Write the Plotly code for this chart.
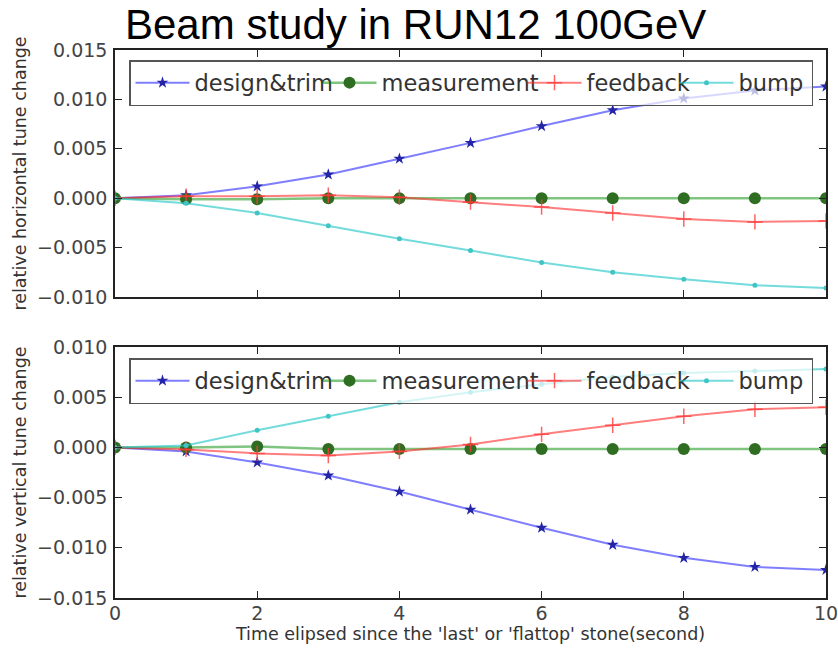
import plotly.graph_objects as go

# ---------------- data ----------------
time_s = [0, 1, 2, 3, 4, 5, 6, 7, 8, 9, 10]
series_names = ["design&trim", "measurement", "feedback", "bump"]

h_design = [0, 0.0003, 0.0012, 0.0024, 0.0040, 0.0056, 0.0073, 0.0089, 0.0101, 0.0109, 0.0113]
h_measurement = [0, -0.0001, -0.0001, 0.0000, 0.0000, 0.0000, 0.0000, 0.0000, 0.0000, 0.0000, 0.0000]
h_feedback = [0, 0.0002, 0.0002, 0.0003, 0.0001, -0.0004, -0.0009, -0.0015, -0.0021, -0.0024, -0.0023]
h_bump = [0, -0.0005, -0.0015, -0.0028, -0.0041, -0.0053, -0.0065, -0.0075, -0.0082, -0.0088, -0.0091]

v_design = [0, -0.0004, -0.0015, -0.0028, -0.0044, -0.0062, -0.0080, -0.0097, -0.0110, -0.0119, -0.0122]
v_measurement = [0, 0, 0.0001, -0.00015, -0.00015, -0.00015, -0.00015, -0.00015, -0.00015, -0.00015, -0.00015]
v_feedback = [0, -0.0002, -0.0006, -0.0008, -0.0004, 0.0003, 0.0013, 0.0022, 0.0031, 0.0038, 0.0040]
v_bump = [0, 0.0002, 0.0017, 0.0031, 0.0045, 0.0055, 0.0063, 0.0070, 0.0074, 0.0076, 0.0078]

x_ticks = [0, 2, 4, 6, 8, 10]
title_text = "Beam study in RUN12 100GeV"
x_title = "Time elipsed since the 'last' or 'flattop' stone(second)"
h_title = "relative horizontal tune change"
v_title = "relative vertical tune change"

# ---------------- styles ----------------
W, H = 838, 649
styles = {
    "design&trim": dict(line=dict(color="rgba(40,40,255,0.6)", width=2),
                        marker=dict(symbol="star", size=9, color="#2424a6")),
    "measurement": dict(line=dict(color="rgba(0,140,0,0.5)", width=2.5),
                        marker=dict(symbol="circle", size=12, color="#2f6d22")),
    "feedback": dict(line=dict(color="rgba(255,40,40,0.6)", width=2),
                     marker=dict(symbol="cross-thin", size=11, color="rgba(255,60,60,0.8)",
                                 line=dict(color="rgba(255,60,60,0.8)", width=1.5))),
    "bump": dict(line=dict(color="rgba(40,200,200,0.65)", width=2),
                 marker=dict(symbol="circle", size=5, color="#40c4c4")),
}
legend_widths = {"design&trim": 118, "measurement": 136, "feedback": 83, "bump": 68}

fig = go.Figure()
top_data = [h_design, h_measurement, h_feedback, h_bump]
bot_data = [v_design, v_measurement, v_feedback, v_bump]
for name, ys in zip(series_names, top_data):
    fig.add_trace(go.Scatter(x=time_s, y=ys, name=name, mode="lines+markers",
                             xaxis="x", yaxis="y", legend="legend",
                             legendwidth=legend_widths[name], **styles[name]))
for name, ys in zip(series_names, bot_data):
    fig.add_trace(go.Scatter(x=time_s, y=ys, name=name, mode="lines+markers",
                             xaxis="x2", yaxis="y2", legend="legend2",
                             legendwidth=legend_widths[name], **styles[name]))

x0, x1 = 115 / W, 826 / W
top_dom = [(H - 297) / H, (H - 50) / H]
bot_dom = [(H - 598) / H, (H - 347) / H]

tick_font = dict(family="DejaVu Sans", size=19, color="#444")
lab_font = dict(family="DejaVu Sans", size=17.5, color="#333")
axis_common = dict(showline=True, linecolor="#222", linewidth=1.5, mirror="allticks",
                   ticks="inside", ticklen=7, tickcolor="#222", tickwidth=1,
                   showgrid=False, zeroline=False, automargin=False, tickfont=tick_font,
                   ticklabeloverflow="allow")

legend_common = dict(orientation="h", xanchor="left", yanchor="top",
                     bordercolor="#555", borderwidth=1.5, bgcolor="rgba(255,255,255,0.7)",
                     font=dict(family="DejaVu Sans", size=22.5, color="#333"), itemwidth=54)

fig.update_layout(
    width=W, height=H, margin=dict(l=0, r=0, t=0, b=0),
    paper_bgcolor="white", plot_bgcolor="white", showlegend=True,
    xaxis=dict(domain=[x0, x1], range=[0, 10], tickvals=x_ticks, showticklabels=False,
               anchor="y", **axis_common),
    yaxis=dict(domain=top_dom, range=[-0.010, 0.015], dtick=0.005, tick0=0,
               tickformat=".3f", anchor="x", ticklabelstandoff=2,
               title=dict(text=h_title, font=lab_font, standoff=6), **axis_common),
    xaxis2=dict(domain=[x0, x1], range=[0, 10], tickvals=x_ticks, anchor="y2",
                ticklabelstandoff=-3,
                title=dict(text=x_title, font=lab_font, standoff=4), **axis_common),
    yaxis2=dict(domain=bot_dom, range=[-0.015, 0.010], dtick=0.005, tick0=0,
                tickformat=".3f", anchor="x2", ticklabelstandoff=2,
                title=dict(text=v_title, font=lab_font, standoff=6), **axis_common),
    legend=dict(x=129 / W, y=(H - 60) / H, **legend_common),
    legend2=dict(x=129 / W, y=(H - 358) / H, **legend_common),
    annotations=[dict(text=title_text, x=415 / W, y=1, xref="paper", yref="paper",
                      xanchor="center", yanchor="top", showarrow=False, borderpad=0,
                      font=dict(family="Liberation Sans", size=42, color="black"))],
)

fig.write_html("out.html")
